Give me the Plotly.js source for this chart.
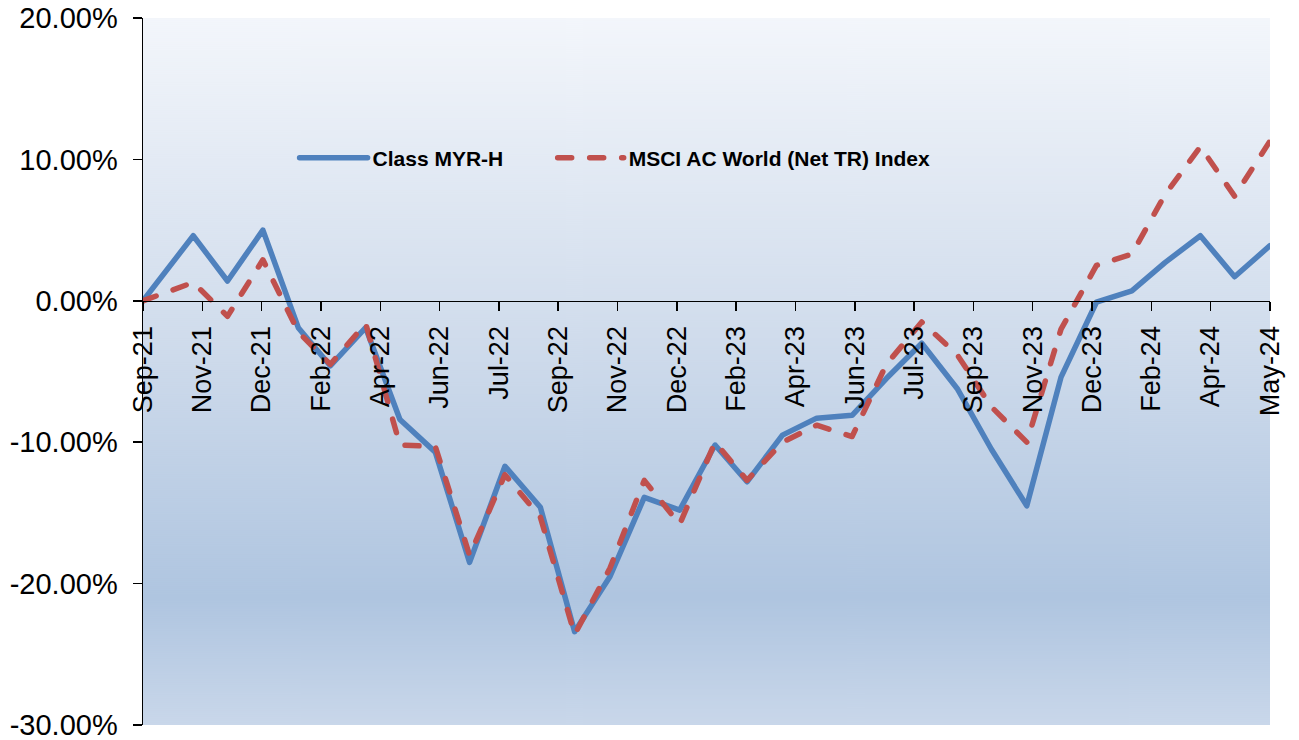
<!DOCTYPE html>
<html>
<head>
<meta charset="utf-8">
<script src="https://cdn.plot.ly/plotly-3.0.1.min.js"></script>
<style>
  html, body { margin: 0; padding: 0; background: #ffffff; }
  #chart { width: 1299px; height: 740px; }
  #chart path.js-line { stroke-linecap: round; stroke-linejoin: round; }
</style>
</head>
<body>
<div id="chart"></div>
<script>
// ---- data ----
const dates = ['2021-09-17','2021-10-31','2021-11-30','2021-12-31','2022-01-31','2022-02-28','2022-03-31','2022-04-30','2022-05-31','2022-06-30','2022-07-31','2022-08-31','2022-09-30','2022-10-31','2022-11-30','2022-12-31','2023-01-31','2023-02-28','2023-03-31','2023-04-30','2023-05-31','2023-06-30','2023-07-31','2023-08-31','2023-09-30','2023-10-31','2023-11-30','2023-12-31','2024-01-31','2024-02-29','2024-03-31','2024-04-30','2024-05-31'];
const classMyrH = [0, 4.6, 1.4, 5.0, -1.9, -4.6, -1.9, -8.4, -10.7, -18.5, -11.7, -14.6, -23.4, -19.5, -13.9, -14.8, -10.2, -12.8, -9.5, -8.3, -8.1, -5.5, -3.0, -6.2, -10.5, -14.5, -5.4, -0.1, 0.7, 2.7, 4.6, 1.7, 3.9];
const msciAcwi = [0, 1.3, -1.1, 2.9, -2.2, -4.5, -1.6, -10.2, -10.3, -18.0, -12.3, -15.3, -23.6, -18.9, -12.7, -15.8, -10.0, -12.7, -10.0, -8.8, -9.6, -4.5, -1.5, -3.8, -7.5, -10.0, -2.0, 2.5, 3.3, 7.5, 10.9, 7.4, 11.3];
const seriesNames = ['Class MYR-H', 'MSCI AC World (Net TR) Index'];
const xTickLabels = ['Sep-21','Nov-21','Dec-21','Feb-22','Apr-22','Jun-22','Jul-22','Sep-22','Nov-22','Dec-22','Feb-23','Apr-23','Jun-23','Jul-23','Sep-23','Nov-23','Dec-23','Feb-24','Apr-24','May-24'];
const yTickVals = [-30, -20, -10, 0, 10, 20];
const yTickLabels = ['-30.00%', '-20.00%', '-10.00%', '0.00%', '10.00%', '20.00%'];

// evenly spaced date ticks across the date span (Excel-style date axis)
function toMs(s) { const p = s.split('-').map(Number); return Date.UTC(p[0], p[1] - 1, p[2]); }
function toStr(ms) { return new Date(ms).toISOString().replace('T', ' ').replace('Z', ''); }
const t0 = toMs(dates[0]), t1 = toMs(dates[dates.length - 1]);
const xTickVals = xTickLabels.map((_, i) => toStr(t0 + i * (t1 - t0) / (xTickLabels.length - 1)));

// background gradient for plot area
function gradientURL() {
  const c = document.createElement('canvas');
  c.width = 4; c.height = 707;
  const g = c.getContext('2d');
  const gr = g.createLinearGradient(0, 0, 0, 707);
  gr.addColorStop(0, '#f3f6fb');
  gr.addColorStop(0.45, '#d0dcec');
  gr.addColorStop(0.82, '#afc5e0');
  gr.addColorStop(1, '#c9d7ea');
  g.fillStyle = gr;
  g.fillRect(0, 0, 4, 707);
  return c.toDataURL('image/png');
}

const FONT = 'Arial, "Liberation Sans", sans-serif';
const legendFont = { family: FONT, size: 21, weight: 'bold', color: '#000000' };

const traces = [
  {
    x: dates, y: classMyrH, name: seriesNames[0], type: 'scatter', mode: 'lines',
    line: { color: '#4F81BD', width: 5.5 }, legend: 'legend'
  },
  {
    x: dates, y: msciAcwi, name: seriesNames[1], type: 'scatter', mode: 'lines',
    line: { color: '#C0504D', width: 5.5, dash: '14px,18px' }, legend: 'legend2'
  }
];

const layout = {
  width: 1299, height: 740,
  margin: { l: 143, r: 29, t: 18, b: 15 },
  paper_bgcolor: '#ffffff',
  plot_bgcolor: 'rgba(0,0,0,0)',
  font: { family: FONT, color: '#000000' },
  showlegend: true,
  legend: {
    orientation: 'h',
    x: 0.1345, xanchor: 'left',
    y: 0.802, yanchor: 'middle',
    bgcolor: 'rgba(0,0,0,0)',
    font: legendFont,
    itemwidth: 68
  },
  legend2: {
    orientation: 'h',
    x: 0.3635, xanchor: 'left',
    y: 0.802, yanchor: 'middle',
    bgcolor: 'rgba(0,0,0,0)',
    font: legendFont,
    itemwidth: 66
  },
  images: [{
    source: gradientURL(), xref: 'paper', yref: 'paper',
    x: 0, y: 1, sizex: 1, sizey: 1, sizing: 'stretch',
    xanchor: 'left', yanchor: 'top', layer: 'below'
  }],
  xaxis: {
    type: 'date',
    range: [dates[0], dates[dates.length - 1]],
    anchor: 'free', position: 0.6,
    showline: true, linecolor: '#000000', linewidth: 1.5,
    ticks: 'outside', ticklen: 9, tickcolor: '#000000', tickwidth: 1.5,
    tickvals: xTickVals, ticktext: xTickLabels,
    tickangle: -90,
    tickfont: { family: FONT, size: 27, color: '#000000' },
    ticklabelstandoff: 4,
    ticklabeloverflow: 'allow',
    showgrid: false, zeroline: false, fixedrange: true
  },
  yaxis: {
    range: [-30, 20], domain: [0, 1],
    showline: true, linecolor: '#000000', linewidth: 1.5,
    ticks: 'outside', ticklen: 9, tickcolor: '#000000', tickwidth: 1.5,
    tickvals: yTickVals, ticktext: yTickLabels,
    tickfont: { family: FONT, size: 29, color: '#000000' },
    ticklabelstandoff: 9,
    ticklabeloverflow: 'allow',
    showgrid: false, zeroline: false, fixedrange: true
  }
};

Plotly.newPlot('chart', traces, layout, { staticPlot: true, displayModeBar: false });
</script>
</body>
</html>
